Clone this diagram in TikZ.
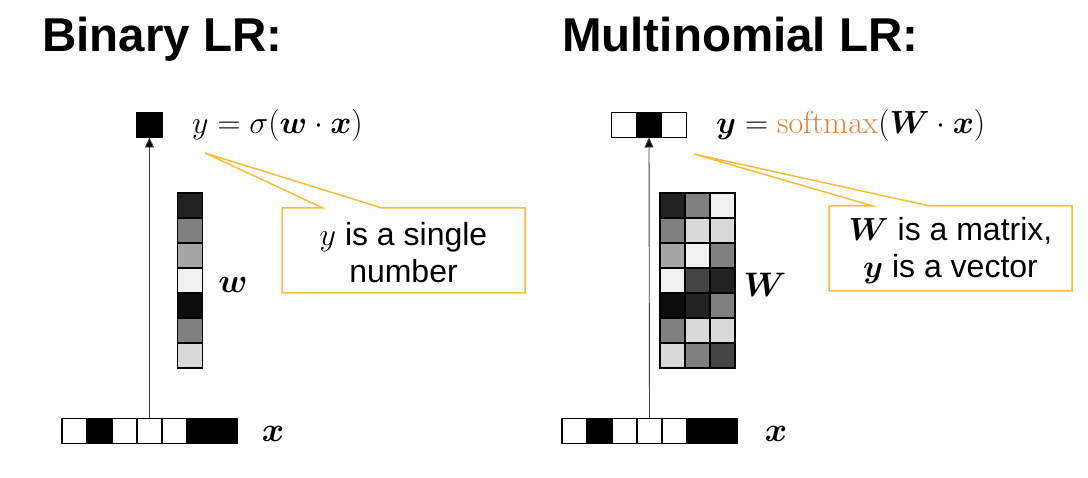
\documentclass[tikz,border=0pt]{standalone}
\usepackage{fix-cm}
\usepackage{amsmath,bm}
\usepackage[no-math]{fontspec}
\setmainfont{Liberation Sans}
\usetikzlibrary{arrows.meta}
\definecolor{calloutc}{RGB}{246,190,60}
\definecolor{smax}{RGB}{229,128,60}
\definecolor{gA}{gray}{0.05}
\definecolor{gB}{gray}{0.133}
\definecolor{gC}{gray}{0.267}
\definecolor{gD}{gray}{0.50}
\definecolor{gE}{gray}{0.65}
\definecolor{gF}{gray}{0.85}
\definecolor{gG}{gray}{0.94}
\begin{document}
\begin{tikzpicture}[x=1pt,y=-1pt,
  cell/.style={draw=black,line width=1.4pt,minimum size=25pt,inner sep=0pt,outer sep=0pt},
  callout/.style={draw=calloutc,line width=1.5pt,fill=white,line join=miter},
  link/.style={draw=black!75,line width=0.9pt,-{Triangle[length=10pt,width=9pt,fill=black]}},
  title/.style={font=\fontsize{47.5}{56}\selectfont\bfseries,anchor=base west,inner sep=0pt},
  eq/.style={font=\fontsize{32}{38}\selectfont,anchor=base west,inner sep=0pt},
  lbl/.style={font=\fontsize{34}{40}\selectfont,inner sep=0pt},
  ctext/.style={font=\fontsize{32}{37}\selectfont,align=center,inner sep=0pt}]
\useasboundingbox (0,0) rectangle (1088,478);
% titles
\node[title] (t1) at (42,52) {Binary LR:};
\node[title] (t2) at (562,52) {Multinomial LR:};
% ---------- binary ----------
\foreach \c [count=\i from 0] in {white,black,white,white,white,black,black}
  \node[cell,fill=\c] (bx\i) at (74.5+25*\i,431) {};
\node[cell,fill=black] (by) at (149.5,125) {};
\foreach \c [count=\j from 0] in {gB,gD,gE,gG,gA,gD,gF}
  \node[cell,fill=\c] (bw\j) at (190,205.5+25*\j) {};
\node[lbl] (wl) at (233,285) {$\boldsymbol{w}$};
\node[lbl] (xl1) at (273,434) {$\boldsymbol{x}$};
\draw[link] (bx3.north) -- (by.south);
\node[eq] (eq1) at (192,134) {$y=\sigma(\boldsymbol{w}\cdot\boldsymbol{x})$};
\coordinate (tip1) at (205,153);
\draw[callout] (282,208) -- (323,208) -- (tip1) -- (382,208) -- (525,208) -- (525,293) -- (282,293) -- cycle;
\node[ctext] (c1) at (403.5,253) {$y$ is a single\\number};
% ---------- multinomial ----------
\foreach \c [count=\i from 0] in {white,black,white,white,white,black,black}
  \node[cell,fill=\c] (mx\i) at (574.5+25*\i,431) {};
\foreach \c [count=\k from 0] in {white,black,white}
  \node[cell,fill=\c] (my\k) at (624+25*\k,125) {};
\foreach \ra/\rb/\rc [count=\j from 0] in {gB/gD/gG,gD/gF/gF,gE/gG/gD,gG/gC/gB,gA/gB/gD,gD/gF/gF,gF/gD/gC}{
  \node[cell,fill=\ra] (Wa\j) at (672.5,205.5+25*\j) {};
  \node[cell,fill=\rb] (Wb\j) at (697.5,205.5+25*\j) {};
  \node[cell,fill=\rc] (Wc\j) at (722.5,205.5+25*\j) {};
}
\node[lbl] (Wl) at (765,285) {$\boldsymbol{W}$};
\node[lbl] (xl2) at (776,434) {$\boldsymbol{x}$};
\draw[link] (mx3.north) -- (my1.south);
\node[eq] (eq2) at (716,134) {$\boldsymbol{y}=\textcolor{smax}{\mathrm{softmax}}(\boldsymbol{W}\cdot\boldsymbol{x})$};
\coordinate (tip2) at (694,154);
\draw[callout] (829,206) -- (873,206) -- (tip2) -- (930,206) -- (1072,206) -- (1072,291) -- (829,291) -- cycle;
\node[ctext] (c2) at (950.5,251) {$\boldsymbol{W}$ is a matrix,\\$\boldsymbol{y}$ is a vector};
\end{tikzpicture}
\end{document}
